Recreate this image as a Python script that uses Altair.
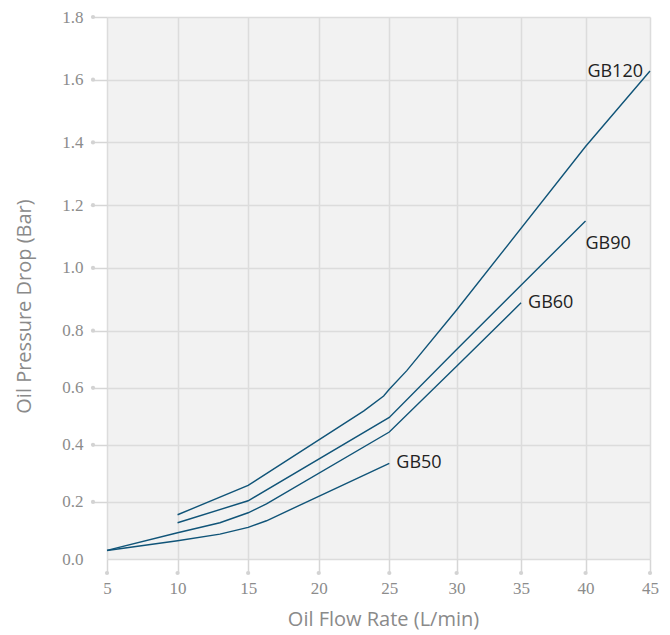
import altair as alt
import pandas as pd

# ---- data ----
series_names = ["GB50", "GB60", "GB90", "GB120"]

gb50_flow = [5, 10, 13, 15, 16.3, 25]
gb50_drop = [0.03, 0.064, 0.087, 0.111, 0.134, 0.335]

gb60_flow = [5, 10, 13, 15, 16.3, 25, 30, 35]
gb60_drop = [0.03, 0.092, 0.127, 0.162, 0.193, 0.445, 0.675, 0.889]

gb90_flow = [10, 15, 25, 30, 40]
gb90_drop = [0.127, 0.204, 0.496, 0.734, 1.15]

gb120_flow = [10, 15, 23.2, 24.6, 25, 26.3, 30, 40, 45]
gb120_drop = [0.155, 0.258, 0.519, 0.571, 0.595, 0.66, 0.866, 1.387, 1.628]

x_ticks = [5, 10, 15, 20, 25, 30, 35, 40, 45]
y_ticks = [0.0, 0.2, 0.4, 0.6, 0.8, 1.0, 1.2, 1.4, 1.6, 1.8]

rows = []
for name, xs, ys in zip(series_names,
                        [gb50_flow, gb60_flow, gb90_flow, gb120_flow],
                        [gb50_drop, gb60_drop, gb90_drop, gb120_drop]):
    for i, (xv, yv) in enumerate(zip(xs, ys)):
        rows.append({"series": name, "flow": xv, "drop": yv, "order": i})
df = pd.DataFrame(rows)
ends = df.groupby("series", sort=False).tail(1).reset_index(drop=True)

xdots = pd.DataFrame({"flow": x_ticks})
ydots = pd.DataFrame({"drop": [v for v in y_ticks if v > 0]})

# ---- styling ----
W, H = 543, 542
LINE = "#105478"
GRID = "#dcdcdc"
TICK = "#d6d6d6"
LABEL = "#8c8c8c"

x_scale = alt.Scale(domain=[5, 25, 30, 45], range=[0, 282.3, 349.6, W], nice=False, zero=False)
y_scale = alt.Scale(domain=[0, 0.8, 1.8], range=[H, 313.7, 0], nice=False, zero=False)

x_axis = alt.Axis(
    values=x_ticks, title="Oil Flow Rate (L/min)", grid=True, gridColor=GRID, gridWidth=1.5,
    domain=False, tickSize=14, tickColor=TICK, tickWidth=1.5,
    labelFont="Liberation Serif", labelFontSize=17, labelColor=LABEL, labelPadding=7,
    labelFlush=False, labelOverlap=False,
    titleFont="Open Sans", titleFontSize=20, titleColor="#8a8a8a", titleFontWeight="normal",
    titleX=276, titleY=66, titleBaseline="alphabetic", titleAlign="center",
)
y_axis = alt.Axis(
    values=y_ticks, format=".1f", title="Oil Pressure Drop (Bar)", grid=True, gridColor=GRID,
    gridWidth=1.5, domain=False, tickSize=14, tickColor=TICK, tickWidth=1.5,
    tickOpacity={"condition": {"test": "datum.value === 0", "value": 0}, "value": 1},
    labelFont="Liberation Serif", labelFontSize=17, labelColor=LABEL, labelPadding=10,
    labelFlush=False, labelOverlap=False, labelBaseline="middle",
    titleFont="Open Sans", titleFontSize=20, titleColor="#8a8a8a", titleFontWeight="normal",
    titleX=-77, titleY=289, titleAngle=-90, titleBaseline="alphabetic", titleAlign="center",
)

X = alt.X("flow:Q", scale=x_scale, axis=x_axis)
Y = alt.Y("drop:Q", scale=y_scale, axis=y_axis)

lines = alt.Chart(df).mark_line(color=LINE, strokeWidth=1.4).encode(
    x=X, y=Y, detail="series:N", order="order:Q"
)

xdot_layer = alt.Chart(xdots).mark_circle(size=18, color="#d3d3d3", opacity=1).encode(
    x=X, y=alt.value(H + 14)
)
ydot_layer = alt.Chart(ydots).mark_circle(size=18, color="#d3d3d3", opacity=1).encode(
    x=alt.value(-14), y=Y
)

text_base = alt.Chart(ends)
txt_kw = dict(font="Open Sans", fontSize=18, color="#222222", baseline="alphabetic")
t120 = text_base.transform_filter(alt.datum.series == "GB120").mark_text(
    align="right", dx=-7, dy=6, **txt_kw).encode(x=X, y=Y, text="series:N")
t90 = text_base.transform_filter(alt.datum.series == "GB90").mark_text(
    align="left", dx=0, dy=28, **txt_kw).encode(x=X, y=Y, text="series:N")
t_small = text_base.transform_filter(
    (alt.datum.series == "GB60") | (alt.datum.series == "GB50")).mark_text(
    align="left", dx=7, dy=5, **txt_kw).encode(x=X, y=Y, text="series:N")

chart = alt.layer(lines, xdot_layer, ydot_layer, t120, t90, t_small).properties(
    width=W, height=H,
    autosize=alt.AutoSizeParams(type="none"),
    padding={"left": 99, "top": 9, "right": 12, "bottom": 76},
    background="white",
).configure_view(fill="#f2f2f2", strokeWidth=0)

chart.save("out.html", embed_options={"renderer": "svg", "actions": False})
